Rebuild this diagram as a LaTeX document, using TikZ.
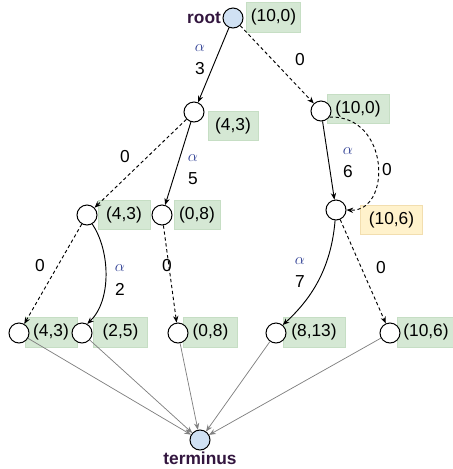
\documentclass[tikz,border=0pt]{standalone}
\usepackage{fontspec}
\setmainfont{Liberation Sans}
\usepackage{amsmath}
\usepackage{tikz}
\usetikzlibrary{arrows.meta,positioning,calc}
\usepackage{xcolor}
\definecolor{boxgreen}{HTML}{D5E8D4}
\definecolor{boxgreenline}{HTML}{C6DEC4}
\definecolor{boxyellow}{HTML}{FFF2CC}
\definecolor{boxyellowline}{HTML}{F2DEAF}
\definecolor{endblue}{HTML}{D0E1F3}
\definecolor{endtext}{HTML}{33163F}
\definecolor{alphablue}{HTML}{2F3F94}

\begin{document}
\begin{tikzpicture}[x=0.75pt,y=-0.75pt,
    font=\fontsize{13}{15}\selectfont,
    state/.style={circle,draw=black,line width=0.75pt,fill=white,minimum size=15pt,inner sep=0pt},
    endpt/.style={state,fill=endblue},
    val/.style={rectangle,fill=boxgreen,draw=boxgreenline,line width=0.6pt,minimum height=22pt,inner sep=0pt},
    hold/.style={val,fill=boxyellow,draw=boxyellowline},
    take/.style={-{Stealth[length=5pt,width=4pt]},line width=0.7pt},
    skip/.style={take,dash pattern=on 2.5pt off 2pt},
    sink/.style={-{Stealth[length=5pt,width=4pt]},line width=0.55pt,draw=black!50},
    wt/.style={inner sep=0pt},
    al/.style={inner sep=0pt,text=alphablue,font=\fontsize{13}{14}\selectfont}]
\useasboundingbox (0,0) rectangle (453,469);

% value boxes go in first, the states sit on top of them
\node[val,minimum width=41pt] (vroot) at (273.5,17.5) {(10,0)};
\node[val,minimum width=37.5pt] (vn1) at (233,126) {(4,3)};
\node[val,minimum width=46.5pt] (vn2) at (358,109) {(10,0)};
\node[hold,minimum width=47pt] (vn3) at (391.5,220) {(10,6)};
\node[val,minimum width=39pt] (vd) at (124,215) {(4,3)};
\node[val,minimum width=34.5pt] (ve) at (197,215) {(0,8)};
\foreach \x/\w/\t [count=\i] in {51/39pt/{(4,3)},120.5/40pt/{(2,5)},210.5/40pt/{(0,8)},314/46.5pt/{(8,13)},426/43pt/{(10,6)}}
    \node[val,minimum width=\w] (vl\i) at (\x,332.5) {\t};

\node[endpt] (root) at (233,18) {};
\node[state] (n1) at (194,112) {};
\node[state] (n2) at (321,111) {};
\node[state] (n3) at (336,210) {};
\node[state] (d) at (87,215) {};
\node[state] (e) at (162,215) {};
\foreach \x [count=\i] in {19,82,178,276,390}
    \node[state] (l\i) at (\x,333) {};
\node[endpt] (term) at (200,440) {};

\node[left=1pt of root,inner sep=0pt,font=\fontsize{13}{15}\selectfont\bfseries,text=endtext] (rootlbl) {root};
\node[below=1pt of term,inner sep=0pt,font=\fontsize{13}{15}\selectfont\bfseries,text=endtext] (termlbl) {terminus};

% taken items (solid) and skipped items (dashed)
\draw[take] (root) -- (n1);
\draw[skip] (root) -- (n2);
\draw[skip] (n1) -- (d);
\draw[take] (n1) -- (e);
\draw[take] (n2) -- (n3);
\draw[skip] (n2.-35) .. controls (390,115) and (392,212) .. (n3.east);
\draw[skip] (d) -- (l1);
\draw[take] (d.-60) .. controls (110,250) and (112,300) .. (l2.60);
\draw[skip] (e) -- (l3);
\draw[take] (n3.-95) .. controls (331,270) and (310,300) .. (l4.50);
\draw[skip] (n3) -- (l5);
\foreach \i in {1,...,5}
    \draw[sink] (l\i) -- (term);

% edge weights
\foreach \x/\y/\n in {200/69/3,193/179/5,348/172/6,120/289/2,300/282/7}{
    \node[al] (a\n) at (\x,\y-21) {$\alpha$};
    \node[wt] (w\n) at (\x,\y) {\n};
}
\foreach \x/\y [count=\i] in {300/60,125/157,387/170,40/266,167/266,381/268}
    \node[wt] (z\i) at (\x,\y) {0};
\end{tikzpicture}
\end{document}
